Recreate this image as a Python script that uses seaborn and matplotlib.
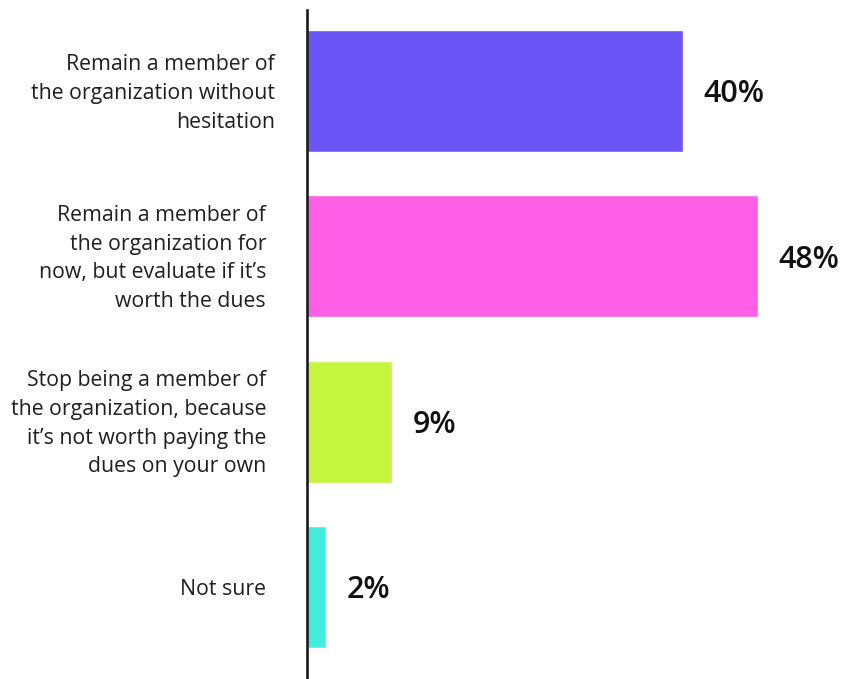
import matplotlib
matplotlib.use("Agg")
import matplotlib.pyplot as plt
import matplotlib.transforms as mtransforms
import seaborn as sns
import pandas as pd

# Survey answers and shares (%)
categories = [
    "Remain a member of\nthe organization without\nhesitation",
    "Remain a member of\nthe organization for\nnow, but evaluate if it\u2019s\nworth the dues",
    "Stop being a member of\nthe organization, because\nit\u2019s not worth paying the\ndues on your own",
    "Not sure",
]
values = [40, 48, 9, 2]
value_labels = ["40%", "48%", "9%", "2%"]
colors = ["#6C55F7", "#FF5FE6", "#C6F53D", "#42EDE0"]

df = pd.DataFrame({"answer": categories, "share": values})

sns.set_theme(style="white")
plt.rcParams["font.family"] = ["Open Sans", "DejaVu Sans"]

fig = plt.figure(figsize=(8.49, 6.79), dpi=100)
ax = fig.add_axes([307 / 849, 0.0, 542 / 849, 669 / 679])

sns.barplot(
    data=df, y="answer", x="share", hue="answer", palette=colors,
    orient="h", width=0.738, saturation=1, legend=False, ax=ax,
)

ax.set_xlim(0, 57.7)
ax.set_ylim(3.557, -0.49)
ax.set_xlabel("")
ax.set_ylabel("")
ax.set_xticks([])

for spine in ["top", "right", "bottom"]:
    ax.spines[spine].set_visible(False)
ax.spines["left"].set_color("#1a1a1a")
ax.spines["left"].set_linewidth(1.9)

ax.tick_params(axis="y", length=0, pad=29.5)
for lbl in ax.get_yticklabels():
    lbl.set_fontsize(15.3)
    lbl.set_color("#1f1f1f")
    lbl.set_horizontalalignment("right")
    lbl.set_multialignment("right")
    lbl.set_linespacing(1.48)

# small per-label nudges (pixels): the first answer sits further right,
# multi-line answers are raised slightly to centre on their bars
x_shifts = [9, 0, 0, 0]
y_shifts = [4, 4, 4, 0]
for lbl, dx, dy in zip(ax.get_yticklabels(), x_shifts, y_shifts):
    lbl.set_transform(
        lbl.get_transform()
        + mtransforms.ScaledTranslation(dx / 100, dy / 100, fig.dpi_scale_trans)
    )

for container, lab in zip(ax.containers, value_labels):
    texts = ax.bar_label(container, labels=[lab], padding=15, fontsize=22,
                        fontweight="semibold", color="#111111")
    for t in texts:
        t.xyann = (15, -2.5)

fig.savefig("out.png", dpi=100)
